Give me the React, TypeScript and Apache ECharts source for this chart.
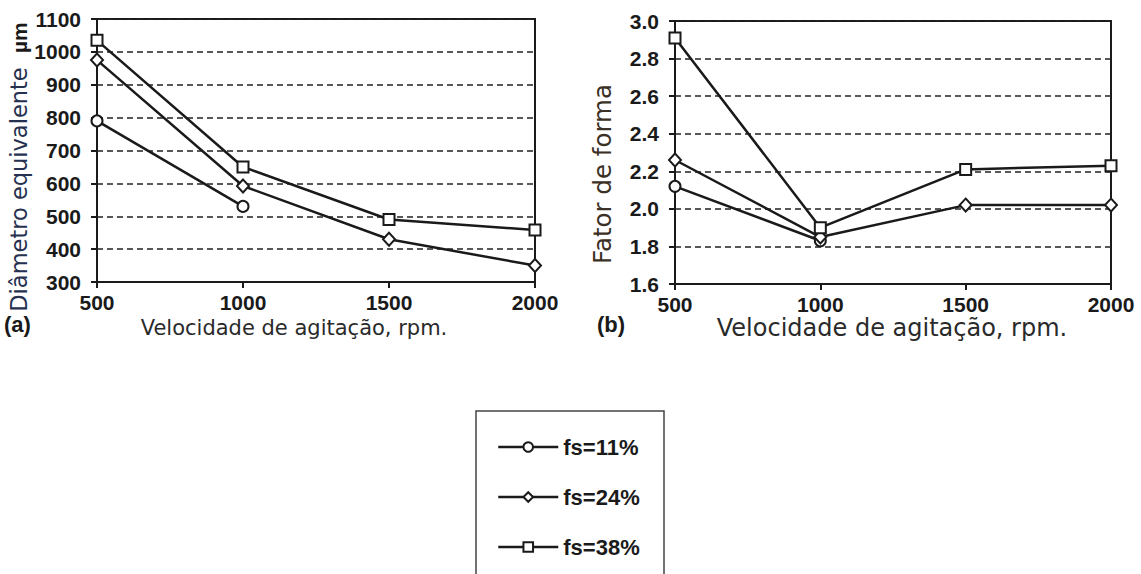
import React, { useEffect, useRef } from "react";
import * as echarts from "echarts";

// ---- data ----
const speeds = [500, 1000, 1500, 2000];
const seriesNames = ["fs=11%", "fs=24%", "fs=38%"];
const seriesSymbols = ["circle", "diamond", "rect"];

// (a) Diâmetro equivalente (µm)
const diam11 = [790, 530, null, null];
const diam24 = [975, 592, 430, 350];
const diam38 = [1035, 650, 490, 458];

// (b) Fator de forma
const forma11 = [2.12, 1.83, null, null];
const forma24 = [2.26, 1.85, 2.02, 2.02];
const forma38 = [2.91, 1.9, 2.21, 2.23];

const diamAxis = { min: 300, max: 1100, interval: 100 };
const formaAxis = { min: 1.6, max: 3.0, interval: 0.2 };

const xTitle = "Velocidade de agitação, rpm.";
const yTitleA = "Diâmetro equivalente  ";
const yTitleAUnit = "µm";
const yTitleB = "Fator de forma";

const INK = "#1a1a1a";
const TICK_FONT = "Liberation Sans";
const TITLE_FONT = "DejaVu Sans";

function toPairs(vals: (number | null)[]) {
  return speeds.map((x, i) => [x, vals[i]]).filter((p) => p[1] !== null);
}

export default function App() {
  const ref = useRef<HTMLDivElement>(null);

  useEffect(() => {
    if (!ref.current) return;
    const chart = echarts.init(ref.current, null, { renderer: "svg" });

    const xAxisBase = (gridIndex: number) => ({
      type: "value",
      gridIndex,
      min: 500,
      max: 2000,
      interval: 500,
      axisLine: { show: true, onZero: false, lineStyle: { color: INK, width: 2 } },
      axisTick: { show: true, length: 6, lineStyle: { color: INK, width: 2 } },
      axisLabel: {
        color: INK,
        fontSize: 21,
        fontWeight: "bold",
        fontFamily: TICK_FONT,
        margin: 10,
        formatter: (v: number) => String(v),
      },
      splitLine: { show: false },
    });

    const yAxisBase = (gridIndex: number, r: any, decimals: number) => ({
      type: "value",
      gridIndex,
      min: r.min,
      max: r.max,
      interval: r.interval,
      axisLine: { show: true, onZero: false, lineStyle: { color: INK, width: 2 } },
      axisTick: { show: true, length: 6, lineStyle: { color: INK, width: 2 } },
      axisLabel: {
        color: INK,
        fontSize: 21,
        fontWeight: "bold",
        fontFamily: TICK_FONT,
        margin: 16,
        formatter: (v: number) => v.toFixed(decimals),
      },
      splitLine: {
        show: true,
        lineStyle: { type: [6, 4], color: "#222222", width: 1.5 },
      },
    });

    const mkSeries = (
      idx: number,
      vals: (number | null)[],
      axisIndex: number
    ) => ({
      type: "line",
      name: seriesNames[idx],
      xAxisIndex: axisIndex,
      yAxisIndex: axisIndex,
      data: toPairs(vals),
      symbol: seriesSymbols[idx],
      symbolSize: idx === 1 ? [12, 13] : 11,
      showAllSymbol: true,
      lineStyle: { color: INK, width: 2.5 },
      itemStyle: { color: "#ffffff", borderColor: INK, borderWidth: 2 },
      z: 2 + idx,
    });

    const option: any = {
      animation: false,
      backgroundColor: "#ffffff",
      grid: [
        {
          left: 97,
          top: 19,
          width: 438,
          height: 263,
          show: true,
          borderColor: INK,
          borderWidth: 2,
          backgroundColor: "transparent",
          outerBoundsMode: "none",
        },
        {
          left: 675,
          top: 21,
          width: 436,
          height: 263,
          show: true,
          borderColor: INK,
          borderWidth: 2,
          backgroundColor: "transparent",
          outerBoundsMode: "none",
        },
      ],
      xAxis: [xAxisBase(0), xAxisBase(1)],
      yAxis: [yAxisBase(0, diamAxis, 0), yAxisBase(1, formaAxis, 1)],
      legend: {
        orient: "vertical",
        left: 492,
        top: 431,
        itemWidth: 60,
        itemHeight: 12,
        itemGap: 28,
        data: seriesNames,
        lineStyle: { color: INK, width: 2.5 },
        itemStyle: { color: "#ffffff", borderColor: INK, borderWidth: 2 },
        textStyle: {
          color: INK,
          fontSize: 22,
          fontWeight: "bold",
          fontFamily: TICK_FONT,
        },
      },
      series: [
        mkSeries(0, diam11, 0),
        mkSeries(1, diam24, 0),
        mkSeries(2, diam38, 0),
        mkSeries(0, forma11, 1),
        mkSeries(1, forma24, 1),
        mkSeries(2, forma38, 1),
      ],
      graphic: [
        {
          type: "rect",
          shape: { x: 476, y: 411, width: 188, height: 220 },
          style: { fill: "none", stroke: "#444", lineWidth: 1.5 },
          silent: true,
        },
        {
          type: "text",
          x: 19,
          y: 167,
          rotation: Math.PI / 2,
          style: {
            text: "{a|" + yTitleA + "}{b|" + yTitleAUnit + "}",
            align: "center",
            verticalAlign: "middle",
            rich: {
              a: { fontFamily: TITLE_FONT, fontSize: 22.5, fill: "#26304f" },
              b: {
                fontFamily: TICK_FONT,
                fontSize: 21,
                fontWeight: "bold",
                fill: INK,
              },
            },
          },
        },
        {
          type: "text",
          x: 602,
          y: 174,
          rotation: Math.PI / 2,
          style: {
            text: yTitleB,
            align: "center",
            verticalAlign: "middle",
            fontFamily: TITLE_FONT,
            fontSize: 24.5,
            fill: "#3b3024",
          },
        },
        {
          type: "text",
          x: 294,
          y: 328,
          style: {
            text: xTitle,
            align: "center",
            verticalAlign: "middle",
            fontFamily: TITLE_FONT,
            fontSize: 21,
            fill: "#2a2a2a",
          },
        },
        {
          type: "text",
          x: 892,
          y: 328,
          style: {
            text: xTitle,
            align: "center",
            verticalAlign: "middle",
            fontFamily: TITLE_FONT,
            fontSize: 24,
            fill: "#2a2a2a",
          },
        },
        {
          type: "text",
          x: 4,
          y: 324,
          style: {
            text: "(a)",
            align: "left",
            verticalAlign: "middle",
            fontFamily: TICK_FONT,
            fontSize: 22,
            fontWeight: "bold",
            fill: INK,
          },
        },
        {
          type: "text",
          x: 597,
          y: 324,
          style: {
            text: "(b)",
            align: "left",
            verticalAlign: "middle",
            fontFamily: TICK_FONT,
            fontSize: 22,
            fontWeight: "bold",
            fill: INK,
          },
        },
      ],
    };

    chart.setOption(option);
    return () => chart.dispose();
  }, []);

  return (
    <div
      ref={ref}
      style={{
        position: "fixed",
        left: 0,
        top: 0,
        width: 1141,
        height: 574,
        background: "#ffffff",
      }}
    />
  );
}
